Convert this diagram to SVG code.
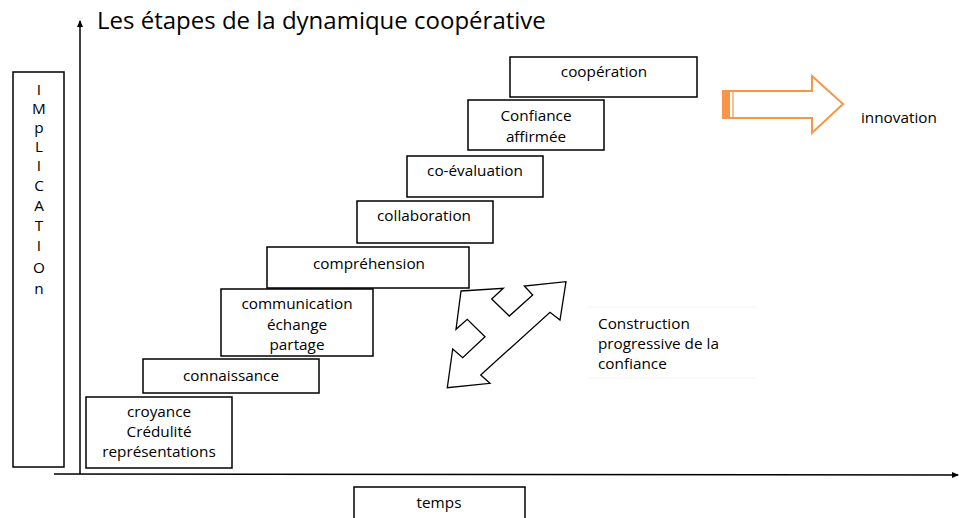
<svg xmlns="http://www.w3.org/2000/svg" width="959" height="518" viewBox="0 0 959 518">
<style>
.box{fill:#fff;stroke:#000;stroke-width:1.5}
.t{font-family:"Open Sans","Liberation Sans",sans-serif;font-size:15.3px;fill:#000;text-anchor:middle}
.l{font-family:"Open Sans","Liberation Sans",sans-serif;font-size:15.3px;fill:#000}
.ax{stroke:#000;stroke-width:1.5;fill:none}
</style>
<defs>
<marker id="ah" markerWidth="8" markerHeight="8" refX="6" refY="4" orient="auto" markerUnits="userSpaceOnUse">
<path d="M0,1 L7,4 L0,7 Z" fill="#000"/>
</marker>
</defs>
<rect width="959" height="518" fill="#fff"/>
<text x="97" y="29" font-family="Open Sans, Liberation Sans, sans-serif" font-size="24" fill="#000">Les étapes de la dynamique coopérative</text>
<g id="connectors">
<line class="ax" x1="80" y1="474" x2="80" y2="21" marker-end="url(#ah)"/>
<line class="ax" x1="54" y1="474" x2="958" y2="475" marker-end="url(#ah)"/>
</g>
<g id="implication">
<rect class="box" x="13" y="72" width="51" height="395"/>
<g class="t">
<text x="39" y="95">I</text><text x="39" y="114">M</text><text x="39" y="133">p</text><text x="39" y="152">L</text><text x="39" y="171">I</text><text x="39" y="191">C</text><text x="39" y="211">A</text><text x="39" y="231">T</text><text x="39" y="251">I</text><text x="39" y="273">O</text><text x="39" y="294">n</text>
</g>
</g>
<g id="croyance">
<rect class="box" x="86" y="397" width="146" height="71"/>
<text class="t" x="159" y="417">croyance</text>
<text class="t" x="159" y="437">Crédulité</text>
<text class="t" x="159" y="457">représentations</text>
</g>
<g id="connaissance">
<rect class="box" x="143" y="359" width="176" height="34"/>
<text class="t" x="231" y="381">connaissance</text>
</g>
<g id="communication">
<rect class="box" x="221" y="289" width="152" height="67"/>
<text class="t" x="297" y="309">communication</text>
<text class="t" x="297" y="330">échange</text>
<text class="t" x="297" y="350">partage</text>
</g>
<g id="comprehension">
<rect class="box" x="267" y="247" width="202" height="41"/>
<text class="t" x="369" y="269">compréhension</text>
</g>
<g id="collaboration">
<rect class="box" x="357" y="201" width="136" height="42"/>
<text class="t" x="424" y="221">collaboration</text>
</g>
<g id="coevaluation">
<rect class="box" x="407" y="156" width="136" height="41"/>
<text class="t" x="475" y="176">co-évaluation</text>
</g>
<g id="confiance">
<rect class="box" x="468" y="100" width="136" height="50"/>
<text class="t" x="536" y="121">Confiance</text>
<text class="t" x="536" y="142">affirmée</text>
</g>
<g id="cooperation">
<rect class="box" x="510" y="57" width="187" height="40"/>
<text class="t" x="604" y="77">coopération</text>
</g>
<g id="innovation-arrow">
<polygon points="723,91 812,91 812,76 843,104 812,133 812,118 723,118" fill="#fff" stroke="#F79646" stroke-width="2"/>
<rect x="723" y="91" width="7" height="27" fill="#F79646"/>
<line x1="733" y1="91" x2="733" y2="118" stroke="#F79646" stroke-width="1.2"/>
</g>
<g id="innovation">
<text class="l" x="861" y="123">innovation</text>
</g>
<g id="triple-arrow">
<polygon points="461,291 503.3,288.3 491.7,299 509.3,316 532.7,295 524.3,286 566,281.7 560,320 550,312.3 480.7,375 490,383.3 447.3,387.7 452.7,349 462.7,357.7 485,336.7 467.3,319.3 456,329.3" fill="#fff" stroke="#000" stroke-width="1.3" stroke-linejoin="miter"/>
</g>
<g id="construction">
<line x1="588" y1="307" x2="755" y2="307" stroke="#f4f4f4" stroke-width="1"/>
<line x1="588" y1="378" x2="755" y2="378" stroke="#f4f4f4" stroke-width="1"/>
<text class="l" x="598" y="329">Construction</text>
<text class="l" x="598" y="349">progressive de la</text>
<text class="l" x="598" y="369">confiance</text>
</g>
<g id="temps">
<rect class="box" x="354" y="487" width="171" height="40"/>
<text class="t" x="439" y="508">temps</text>
</g>
</svg>
